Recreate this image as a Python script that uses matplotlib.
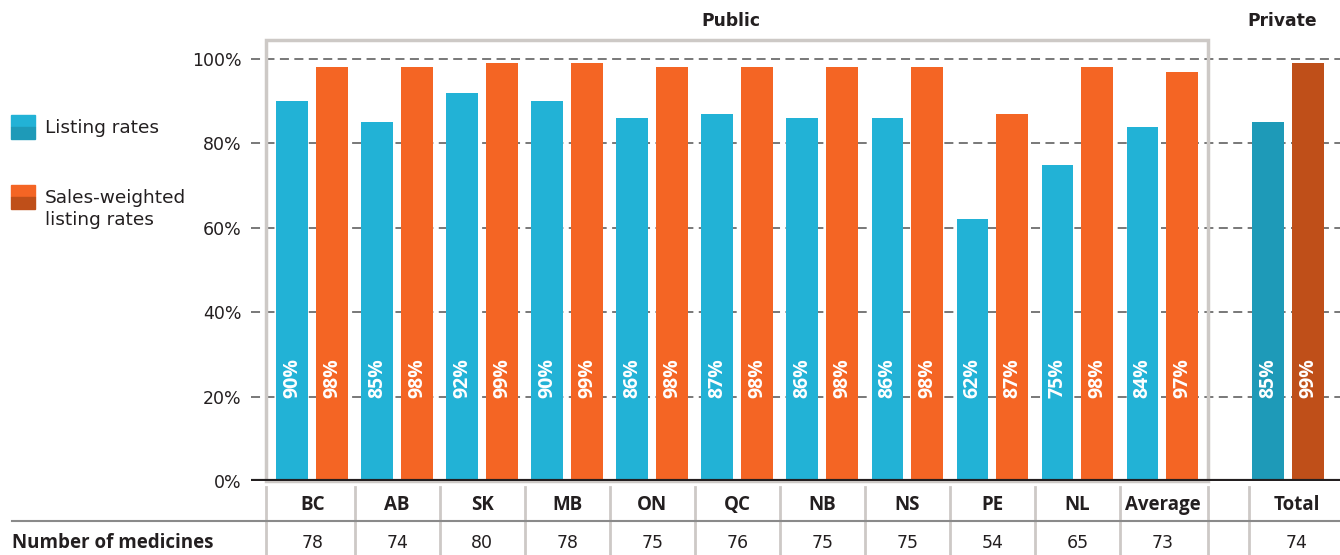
import numpy as np
import matplotlib.pyplot as plt
from matplotlib.patches import Rectangle
from matplotlib.transforms import blended_transform_factory

plt.rcParams['font.family'] = ['DejaVu Sans']
BOLD = ['Open Sans', 'DejaVu Sans']

regions = ['BC', 'AB', 'SK', 'MB', 'ON', 'QC', 'NB', 'NS', 'PE', 'NL', 'Average', 'Total']
listing = [90, 85, 92, 90, 86, 87, 86, 86, 62, 75, 84, 85]
weighted = [98, 98, 99, 99, 98, 98, 98, 98, 87, 98, 97, 99]
n_medicines = [78, 74, 80, 78, 75, 76, 75, 75, 54, 65, 73, 74]

cyan = '#22b2d6'
cyan_dk = '#1e9ab8'
orange = '#f46524'
orange_dk = '#bf4f19'
txt = '#231f20'
light = '#cdc9c6'

W, H = 1340, 555
fig = plt.figure(figsize=(W / 100, H / 100), dpi=100)
ax = fig.add_axes([251 / W, (H - 481) / H, (W - 251) / W, 464.2 / H])

x = np.arange(len(regions), dtype=float)
x[-1] = 11.48          # bars of the private group
x_lab = x.copy()
x_lab[-1] = 11.58      # "Total" label sits a bit to the right
width = 0.376
off = 0.233

c1 = [cyan] * 11 + [cyan_dk]
c2 = [orange] * 11 + [orange_dk]
ax.bar(x - off, listing, width, color=c1, zorder=3)
ax.bar(x + off, weighted, width, color=c2, zorder=3)

for xi, v in zip(x - off, listing):
    ax.text(xi, 24.4, '%d%%' % v, rotation=90, ha='center', va='center',
            color='white', fontsize=14, fontweight='bold', family=BOLD, zorder=4)
for xi, v in zip(x + off, weighted):
    ax.text(xi, 24.4, '%d%%' % v, rotation=90, ha='center', va='center',
            color='white', fontsize=14, fontweight='bold', family=BOLD, zorder=4)

ax.set_xlim(-0.72, 12.09)
ax.set_ylim(0, 110)
ax.set_yticks([0, 20, 40, 60, 80, 100])
ax.set_yticklabels(['%d%%' % t for t in [0, 20, 40, 60, 80, 100]])
ax.tick_params(axis='y', length=0, pad=7, labelsize=12.5, labelcolor=txt)
ax.set_xticks([])
for s in ax.spines.values():
    s.set_visible(False)
for t in [20, 40, 60, 80, 100]:
    ax.axhline(t, color='#6d6d6d', lw=1.3, ls=(0, (5, 3)), zorder=1)
ax.axhline(0, color='#231f20', lw=3, zorder=5)

# public box
ax.add_patch(Rectangle((-0.54, 0), 11.08, 104.5, fill=False, ec=light, lw=2.5,
                       zorder=2, clip_on=False))
ax.text(4.92, 109, 'Public', ha='center', va='center', fontsize=12.3,
        fontweight='bold', color=txt)
ax.text(11.41, 109, 'Private', ha='center', va='center', fontsize=12.3,
        fontweight='bold', color=txt)

# table below
tr = blended_transform_factory(ax.transData, fig.transFigure)
for xi, r, n in zip(x_lab, regions, n_medicines):
    ax.text(xi, (H - 505) / H, r, transform=tr, ha='center', va='center',
            fontsize=13.5, fontweight='bold', family=BOLD, color=txt, clip_on=False)
    ax.text(xi, (H - 543) / H, str(n), transform=tr, ha='center', va='center',
            fontsize=12.5, color=txt, clip_on=False)
seps = [-0.54] + [i + 0.5 for i in range(10)] + [10.54, 11.02]
for s in seps:
    ax.plot([s, s], [(H - 487) / H, 0], transform=tr, color=light, lw=2,
            clip_on=False)
fig.add_artist(plt.Line2D([12 / W, 1], [(H - 521) / H] * 2, color='#8a8a8a', lw=1.5))
fig.text(12 / W, (H - 543) / H, 'Number of medicines', ha='left', va='center',
         fontsize=13.5, fontweight='bold', family=BOLD, color=txt)

# legend
def swatch(y_top, c_top, c_bot):
    fig.add_artist(Rectangle((11 / W, (H - y_top - 12) / H), 24 / W, 12 / H,
                             color=c_top, transform=fig.transFigure))
    fig.add_artist(Rectangle((11 / W, (H - y_top - 24) / H), 24 / W, 12 / H,
                             color=c_bot, transform=fig.transFigure))

swatch(115, cyan, cyan_dk)
swatch(185, orange, orange_dk)
fig.text(45 / W, (H - 128) / H, 'Listing rates', ha='left', va='center',
         fontsize=13.3, color=txt)
fig.text(45 / W, (H - 209) / H, 'Sales-weighted\nlisting rates', ha='left',
         va='center', fontsize=13.3, color=txt, linespacing=1.3)

plt.savefig('out.png', dpi=100)
